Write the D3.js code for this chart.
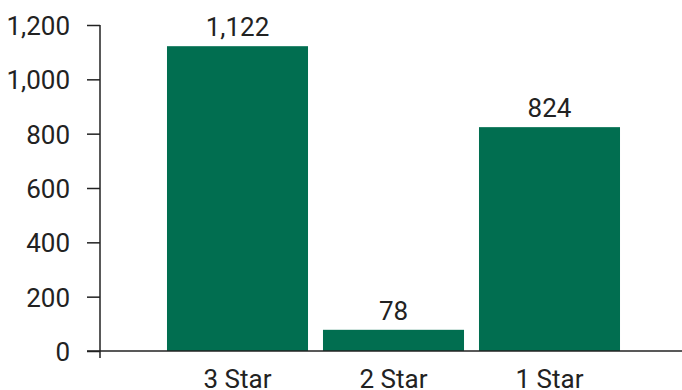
<!DOCTYPE html>
<html>
<head>
<meta charset="utf-8">
<script src="https://cdn.jsdelivr.net/npm/d3@7"></script>
<style>
  body { margin: 0; background: #fff; }
  text { font-family: Roboto, "Noto Sans", sans-serif; fill: #222; }
</style>
</head>
<body>
<svg id="chart" width="682" height="390"></svg>
<script>
const categories = ["3 Star", "2 Star", "1 Star"];
const values = [1122, 78, 824];
const yTicks = [0, 200, 400, 600, 800, 1000, 1200];

const width = 682, height = 390;
const barColor = "#016e50";
const axisColor = "#222";
const fontSize = "26px";

const svg = d3.select("#chart");

const y = d3.scaleLinear().domain([0, 1200]).range([351, 25]);
const x = d3.scaleBand()
  .domain(categories)
  .range([159.5, 627.5])
  .paddingInner(0.096)
  .paddingOuter(0.048);

// bars
svg.append("g")
  .selectAll("rect")
  .data(values)
  .join("rect")
    .attr("x", (d, i) => x(categories[i]))
    .attr("y", d => y(d))
    .attr("width", x.bandwidth())
    .attr("height", d => y(0) - y(d))
    .attr("fill", barColor);

// value labels
svg.append("g")
  .selectAll("text")
  .data(values)
  .join("text")
    .attr("x", (d, i) => x(categories[i]) + x.bandwidth() / 2)
    .attr("y", d => y(d) - 10)
    .attr("text-anchor", "middle")
    .style("font-size", fontSize)
    .text(d => d3.format(",")(d));

// y axis
const yAxis = svg.append("g")
  .attr("transform", "translate(100,0)")
  .call(d3.axisLeft(y).tickValues(yTicks).tickFormat(d3.format(",")).tickSize(13).tickPadding(17).tickSizeOuter(0));
yAxis.select(".domain").remove();
yAxis.selectAll(".tick line").attr("stroke", axisColor).attr("stroke-width", 1.5);
yAxis.selectAll(".tick text").style("font-size", fontSize).attr("fill", axisColor).attr("dy", "0.36em");
yAxis.append("line")
  .attr("x1", 0).attr("x2", 0)
  .attr("y1", y(1200)).attr("y2", y(0) + 7)
  .attr("stroke", axisColor).attr("stroke-width", 1.5);

// x axis baseline
svg.append("line")
  .attr("x1", 87).attr("x2", width)
  .attr("y1", y(0)).attr("y2", y(0))
  .attr("stroke", axisColor).attr("stroke-width", 1.5);

// category labels
svg.append("g")
  .selectAll("text")
  .data(categories)
  .join("text")
    .attr("x", d => x(d) + x.bandwidth() / 2)
    .attr("y", y(0) + 37)
    .attr("text-anchor", "middle")
    .style("font-size", fontSize)
    .text(d => d);
</script>
</body>
</html>
